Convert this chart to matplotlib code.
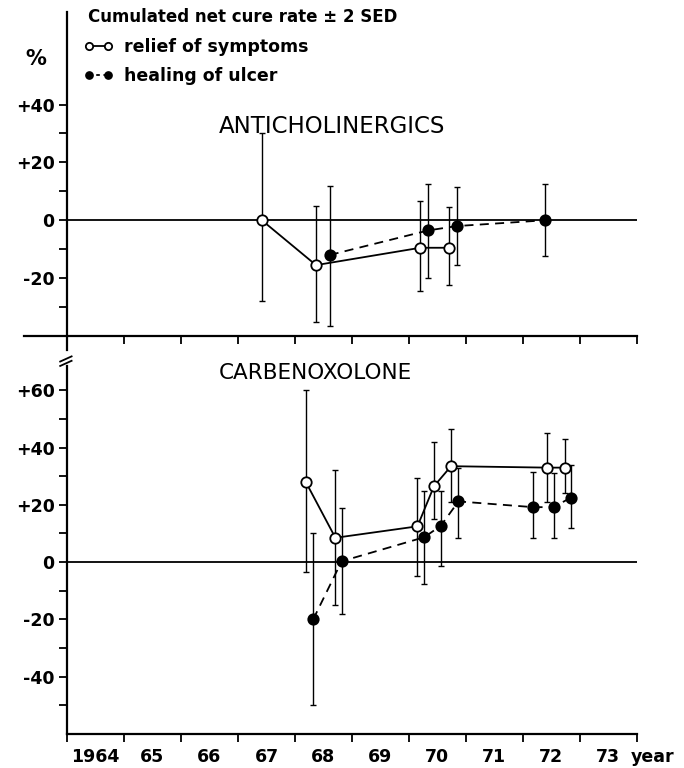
import numpy as np
import matplotlib
matplotlib.use("Agg")
import matplotlib.pyplot as plt

# Data: x = calendar year (decimal), y = cumulated net cure rate (%)
# lo/hi = lower / upper end of the +-2 SED bar
anti_relief_x = [1967.42, 1968.37, 1970.20, 1970.70]
anti_relief_y = [0, -15.5, -9.5, -9.5]
anti_relief_lo = [-28, -35, -24.5, -22.5]
anti_relief_hi = [30, 5, 6.5, 4.5]

anti_ulcer_x = [1968.61, 1970.34, 1970.84, 1972.39]
anti_ulcer_y = [-12, -3.5, -2, 0]
anti_ulcer_lo = [-36.5, -20, -15.5, -12.5]
anti_ulcer_hi = [12, 12.5, 11.5, 12.5]

carb_relief_x = [1968.19, 1968.71, 1970.15, 1970.44, 1970.74, 1972.43, 1972.74]
carb_relief_y = [28, 8.5, 12.5, 26.5, 33.5, 33, 33]
carb_relief_lo = [-3.5, -15, -5, 15, 21, 21, 24]
carb_relief_hi = [60, 32, 29.5, 42, 46.5, 45, 43]

carb_ulcer_x = [1968.32, 1968.82, 1970.27, 1970.56, 1970.87, 1972.18, 1972.54, 1972.84]
carb_ulcer_y = [-20, 0.3, 8.7, 12.7, 21.2, 19.2, 19.2, 22.5]
carb_ulcer_lo = [-50, -18, -7.5, -1.5, 8.5, 8.5, 8.5, 12]
carb_ulcer_hi = [10, 19, 25, 25, 33, 31.5, 31, 34]

year_ticks = list(range(1964, 1975))
year_labels = ["1964", "65", "66", "67", "68", "69", "70", "71", "72", "73"]

plt.rcParams['font.family'] = ['DejaVu Sans']

fig = plt.figure(figsize=(6.84, 7.68), dpi=100)
ax1 = fig.add_axes([0.098, 0.5625, 0.833, 0.4219])
ax2 = fig.add_axes([0.098, 0.0443, 0.833, 0.4792])

DASH = (0, (5, 3.5))


def draw_series(ax, x, y, lo, hi, filled):
    y = np.array(y)
    yerr = [y - np.array(lo), np.array(hi) - y]
    ax.errorbar(x, y, yerr=yerr, fmt='none', ecolor='black', elinewidth=1.0,
                capsize=2.5, capthick=1.0, zorder=2)
    ax.plot(x, y, color='black', lw=1.3,
            ls=DASH if filled else '-',
            marker='o', ms=7.5, mew=1.3, mec='black',
            mfc='black' if filled else 'white', zorder=3)


draw_series(ax1, anti_relief_x, anti_relief_y, anti_relief_lo, anti_relief_hi, False)
draw_series(ax1, anti_ulcer_x, anti_ulcer_y, anti_ulcer_lo, anti_ulcer_hi, True)
draw_series(ax2, carb_relief_x, carb_relief_y, carb_relief_lo, carb_relief_hi, False)
draw_series(ax2, carb_ulcer_x, carb_ulcer_y, carb_ulcer_lo, carb_ulcer_hi, True)

for ax in (ax1, ax2):
    ax.axhline(0, color='black', lw=1.3, zorder=1)
    ax.set_xlim(1964, 1974)
    ax.spines['top'].set_visible(False)
    ax.spines['right'].set_visible(False)
    ax.spines['left'].set_linewidth(1.6)
    ax.spines['bottom'].set_linewidth(1.6)
    ax.set_xticks(year_ticks)
    ax.tick_params(axis='both', which='both', direction='out', width=1.3,
                   labelsize=12.5)
    ax.tick_params(axis='x', which='major', length=6)
    ax.tick_params(axis='y', which='both', length=6, pad=3)

# top panel
ax1.set_ylim(-40, 72)
ax1.set_yticks([-20, 0, 20, 40])
ax1.set_yticklabels(["-20", "0", "+20", "+40"], fontweight='bold')
ax1.set_yticks([-30, -10, 10, 30], minor=True)
ax1.set_xticklabels([])
ax1.spines['bottom'].set_bounds(1963.25, 1974)
ax1.spines['left'].set_bounds(-45, 72)
ax1.text(1966.67, 32.5, "ANTICHOLINERGICS", fontsize=16.5, va='center', ha='left')

# bottom panel
ax2.set_ylim(-60, 68.5)
ax2.set_yticks([-40, -20, 0, 20, 40, 60])
ax2.set_yticklabels(["-40", "-20", "0", "+20", "+40", "+60"], fontweight='bold')
ax2.set_yticks([-50, -30, -10, 10, 30, 50], minor=True)
ax2.set_xticklabels([])
ax2.set_xticks([y + 0.5 for y in year_ticks[:-1]], minor=True)
ax2.set_xticklabels(year_labels, minor=True, fontweight='bold')
ax2.tick_params(axis='x', which='minor', length=0, pad=10)
ax2.text(1973.9, -64.8, "year", fontsize=12.5, fontweight='bold',
         ha='left', va='top')
ax2.text(1966.67, 66, "CARBENOXOLONE", fontsize=15.5, va='center', ha='left')

# axis break marks
for dy in (0.0, 0.012):
    ax2.plot([-0.012, 0.008], [1.0 + dy, 1.014 + dy], transform=ax2.transAxes,
             color='black', lw=1.3, clip_on=False)

# unit and legend
fig.text(36 / 684, 1 - 59 / 768, "%", fontsize=15, fontweight='bold',
         ha='center', va='center')
fig.text(88 / 684, 1 - 17 / 768, "Cumulated net cure rate \u00b1 2 SED",
         fontsize=12, fontweight='bold', ha='left', va='center')
h1, = ax1.plot([], [], color='black', lw=1.3, marker='o', ms=7.5, mfc='white',
               mec='black', mew=1.3)
h2, = ax1.plot([], [], color='black', lw=1.3, ls=(0, (2, 2)), marker='o', ms=7.5,
               mfc='black', mec='black')
leg = fig.legend([h1, h2], ["relief of symptoms", "healing of ulcer"],
                 loc='upper left', bbox_to_anchor=(84 / 684, 1 - 38 / 768),
                 frameon=False, numpoints=2, markerscale=0.7,
                 handlelength=1.7, handletextpad=0.6, labelspacing=0.65,
                 borderpad=0, borderaxespad=0,
                 prop={'weight': 'bold', 'size': 12.5})

fig.savefig("out.png", dpi=100)
